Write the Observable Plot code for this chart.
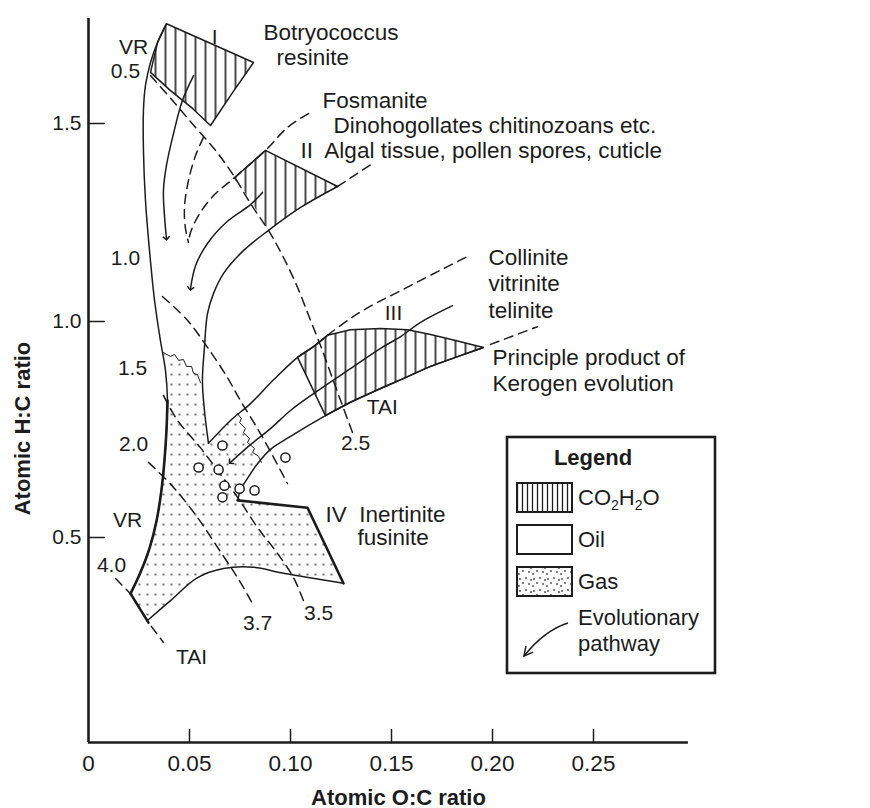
<!DOCTYPE html>
<html>
<head>
<meta charset="utf-8">
<script src="https://cdn.jsdelivr.net/npm/d3@7"></script>
<script src="https://cdn.jsdelivr.net/npm/@observablehq/plot@0.6"></script>
<style>
  body { margin: 0; background: #fff; }
  #chart { position: relative; width: 870px; height: 808px; }
</style>
</head>
<body>
<div id="chart"></div>
<script>
const FONT = "'Liberation Sans', Arial, Helvetica, sans-serif";
const INK = "#1c1c1c";

// ---- axes ----
const xTicks = [0, 0.05, 0.10, 0.15, 0.20, 0.25];
const yTicks = [0.5, 1.0, 1.5];
const xMax = 0.297, yMin = 0.0255, yMax = 1.765;

// ---- solid boundary curves (O:C, H:C) ----
const leftEnvelope = [[0.0386,1.752],[0.0342,1.705],[0.0307,1.654],[0.0282,1.596],[0.0272,1.533],[0.0272,1.432],[0.0282,1.306],[0.0302,1.179],[0.0327,1.053],[0.0356,0.956],[0.0381,0.887],[0.0391,0.817],[0.0386,0.748],[0.0376,0.678],[0.0361,0.609],[0.0337,0.539],[0.0302,0.475],[0.0257,0.419],[0.0208,0.370]];
const typeIHatch = [[0.0386,1.752],[0.0817,1.654],[0.0713,1.578],[0.0604,1.495],[0.0515,1.538],[0.0406,1.583],[0.0307,1.629],[0.0342,1.705]];
const typeIArrow = [[0.0520,1.621],[0.0465,1.558],[0.0421,1.475],[0.0386,1.394],[0.0371,1.331],[0.0376,1.268],[0.0386,1.210]];
const typeIDashed = [[0.0569,1.465],[0.0530,1.419],[0.0495,1.356],[0.0475,1.288],[0.0480,1.235],[0.0495,1.200]];
const typeIIDashedUpper = [[0.1089,1.525],[0.0985,1.490],[0.0876,1.432],[0.0718,1.361],[0.0619,1.318],[0.0545,1.268],[0.0505,1.225],[0.0495,1.200]];
const typeIIHatch = [[0.0876,1.432],[0.1233,1.341],[0.1050,1.288],[0.0891,1.230],[0.0842,1.273],[0.0792,1.313],[0.0752,1.341],[0.0718,1.361]];
const typeIIHatchTop = [[0.0718,1.361],[0.0876,1.432],[0.1233,1.341]];
const typeIIDashedLower = [[0.1233,1.341],[0.1406,1.399]];
const typeIILower = [[0.1233,1.341],[0.1050,1.288],[0.0891,1.230],[0.0767,1.179],[0.0668,1.121],[0.0619,1.071],[0.0589,1.020],[0.0574,0.940],[0.0564,0.863],[0.0574,0.794],[0.0594,0.718]];
const typeIIArrow = [[0.0861,1.326],[0.0802,1.295],[0.0688,1.253],[0.0589,1.197],[0.0530,1.141],[0.0505,1.083]];
const typeIIIUpper = [[0.0594,0.718],[0.0703,0.771],[0.0802,0.810],[0.0916,0.865],[0.1035,0.917],[0.1114,0.942],[0.1183,0.968]];
const typeIIIDashedUpper = [[0.1183,0.968],[0.1297,1.008],[0.1411,1.043],[0.1520,1.071],[0.1644,1.104],[0.1767,1.136],[0.1876,1.164]];
const typeIIIHatch = [[0.1035,0.917],[0.1114,0.942],[0.1183,0.968],[0.1297,0.981],[0.1446,0.984],[0.1579,0.981],[0.1693,0.970],[0.1817,0.956],[0.1955,0.940],[0.1817,0.917],[0.1693,0.896],[0.1569,0.870],[0.1446,0.845],[0.1297,0.813],[0.1173,0.782]];
const typeIIILower = [[0.1955,0.940],[0.1817,0.917],[0.1693,0.896],[0.1569,0.870],[0.1446,0.845],[0.1297,0.813],[0.1173,0.782],[0.1000,0.734],[0.0901,0.704],[0.0837,0.671],[0.0787,0.637],[0.0752,0.609],[0.0738,0.586]];
const typeIIIArrow = [[0.1802,1.040],[0.1644,0.998],[0.1545,0.965],[0.1446,0.938],[0.1297,0.891],[0.1114,0.833],[0.1000,0.794],[0.0901,0.752],[0.0802,0.715],[0.0703,0.674]];
const principleDashed = [[0.1990,0.947],[0.2223,0.988]];
const typeIVEdge = [[0.0738,0.586],[0.1084,0.569],[0.1262,0.394]];
const gasBottom = [[0.1262,0.394],[0.0965,0.417],[0.0817,0.431],[0.0668,0.428],[0.0540,0.407],[0.0406,0.354],[0.0292,0.308]];
const oilGasWavy1 = [[0.0371,0.928],[0.0406,0.919],[0.0426,0.924],[0.0446,0.910],[0.0470,0.912],[0.0485,0.896],[0.0510,0.896],[0.0520,0.880],[0.0540,0.877],[0.0554,0.859]];
const oilGasWavy2 = [[0.0738,0.787],[0.0757,0.775],[0.0748,0.766],[0.0777,0.752],[0.0767,0.743],[0.0797,0.729],[0.0787,0.720],[0.0822,0.706],[0.0812,0.697],[0.0842,0.688],[0.0856,0.674]];
const gasZone = [[0.0208,0.370],[0.0257,0.419],[0.0302,0.475],[0.0337,0.539],[0.0361,0.609],[0.0376,0.678],[0.0386,0.748],[0.0391,0.817],[0.0381,0.887],[0.0371,0.928],[0.0406,0.919],[0.0426,0.924],[0.0446,0.910],[0.0470,0.912],[0.0485,0.896],[0.0510,0.896],[0.0520,0.880],[0.0540,0.877],[0.0554,0.859],[0.0574,0.794],[0.0594,0.718],[0.0703,0.771],[0.0738,0.787],[0.0757,0.775],[0.0748,0.766],[0.0777,0.752],[0.0767,0.743],[0.0797,0.729],[0.0787,0.720],[0.0822,0.706],[0.0812,0.697],[0.0842,0.688],[0.0856,0.674],[0.0837,0.671],[0.0787,0.637],[0.0752,0.609],[0.0738,0.586],[0.1084,0.569],[0.1262,0.394],[0.0965,0.417],[0.0817,0.431],[0.0668,0.428],[0.0540,0.407],[0.0406,0.354],[0.0292,0.308]];

// ---- maturity isolines (dashed): VR at top end, TAI at bottom end ----
const vr05 = [[0.0307,1.621],[0.0416,1.558],[0.0530,1.490],[0.0629,1.432],[0.0718,1.369],[0.0802,1.298],[0.0891,1.230],[0.0960,1.167],[0.1035,1.086],[0.1099,1.003],[0.1158,0.933],[0.1208,0.868],[0.1257,0.806],[0.1307,0.743]];
const vr10 = [[0.0366,1.063],[0.0490,1.003],[0.0589,0.940],[0.0688,0.870],[0.0752,0.817],[0.0837,0.752],[0.0911,0.690],[0.0985,0.625]];
const vr15 = [[0.0371,0.829],[0.0441,0.771],[0.0554,0.708],[0.0639,0.655],[0.0738,0.593],[0.0837,0.523],[0.0936,0.463],[0.1015,0.407],[0.1064,0.354]];
const vr20 = [[0.0297,0.674],[0.0421,0.616],[0.0540,0.546],[0.0639,0.477],[0.0738,0.407],[0.0817,0.343]];
const vr40 = [[0.0134,0.405],[0.0208,0.370],[0.0297,0.303],[0.0371,0.257]];

// ---- coal samples ----
const coalSamples = [[0.0663,0.713],[0.0545,0.662],[0.0644,0.657],[0.0673,0.620],[0.0748,0.613],[0.0822,0.609],[0.0663,0.593],[0.0975,0.685]];

// ---- labels ----
const isoLabels = [["VR",0.0223,1.692],["0.5",0.0183,1.631],["I",0.0624,1.717],["1.0",0.0183,1.159],["III",0.1510,1.020],["1.5",0.0218,0.891],["TAI",0.1455,0.801],["2.5",0.1322,0.718],["2.0",0.0223,0.715],["VR",0.0193,0.539],["4.0",0.0114,0.435],["3.5",0.1139,0.324],["3.7",0.0837,0.301],["TAI",0.0510,0.222]];
const sourceLabels = [["Botryococcus",0.0866,1.730],["resinite",0.0931,1.667],["Fosmanite",0.1158,1.558],["Dinohogollates chitinozoans etc.",0.1213,1.495],["II\u00a0 Algal tissue, pollen spores, cuticle",0.1050,1.432],["Collinite",0.1980,1.162],["vitrinite",0.1980,1.096],["telinite",0.1980,1.028],["Principle product of",0.2000,0.917],["Kerogen evolution",0.2000,0.856],["IV\u00a0 Inertinite",0.1173,0.553],["fusinite",0.1332,0.500]];
const legendItems = ["Oil", "Gas"];

const solid = {stroke: INK, strokeWidth: 1.5, curve: "catmull-rom"};
const dashed = {stroke: INK, strokeWidth: 1.5, strokeDasharray: "9,6", curve: "catmull-rom"};

const chart = Plot.plot({
  width: 870, height: 808,
  marginTop: 18, marginBottom: 66, marginLeft: 88, marginRight: 176,
  style: {fontFamily: FONT, fontSize: "21px", color: INK, background: "white", overflow: "visible"},
  x: {type: "linear", domain: [0, 0.3]},
  y: {type: "linear", domain: [0.5, 1.0, 1.5], range: [537, 321, 123]},
  marks: [
    Plot.line(gasZone, {curve: "linear-closed", fill: "url(#gasDots)", stroke: "none"}),
    Plot.line(typeIHatch, {curve: "linear-closed", fill: "url(#hatch)", stroke: INK, strokeWidth: 1.5}),
    Plot.line(typeIIHatch, {curve: "linear-closed", fill: "url(#hatch)", stroke: "none"}),
    Plot.line(typeIIIHatch, {curve: "linear-closed", fill: "url(#hatch)", stroke: INK, strokeWidth: 1.5}),
    Plot.line(typeIIHatchTop, {stroke: INK, strokeWidth: 1.5}),

    Plot.line(vr05, dashed),
    Plot.line(vr10, dashed),
    Plot.line(vr15, dashed),
    Plot.line(vr20, dashed),
    Plot.line(vr40, {...dashed, curve: "linear"}),
    Plot.line(vr40.slice(1, 3), {stroke: INK, strokeWidth: 2.6}),
    Plot.line(typeIDashed, dashed),
    Plot.line(typeIIDashedUpper, dashed),
    Plot.line(typeIIDashedLower, dashed),
    Plot.line(typeIIIDashedUpper, dashed),
    Plot.line(principleDashed, dashed),

    Plot.line(leftEnvelope, solid),
    Plot.line(leftEnvelope.slice(11), {...solid, strokeWidth: 2.6}),
    Plot.line(typeIILower, solid),
    Plot.line(typeIIIUpper, solid),
    Plot.line(typeIIILower, solid),
    Plot.line(typeIVEdge, {stroke: INK, strokeWidth: 2.6}),
    Plot.line(gasBottom, solid),
    Plot.line(oilGasWavy1, {stroke: INK, strokeWidth: 1}),
    Plot.line(oilGasWavy2, {stroke: INK, strokeWidth: 1}),

    Plot.line(typeIArrow, {...solid, markerEnd: "arrow"}),
    Plot.line(typeIIArrow, {...solid, markerEnd: "arrow"}),
    Plot.line(typeIIIArrow, {...solid, markerEnd: "arrow"}),

    Plot.dot(coalSamples, {r: 4.6, stroke: INK, strokeWidth: 1.5, fill: "white"}),

    Plot.text(isoLabels, {x: d => d[1], y: d => d[2], text: d => d[0], fontSize: 21, fill: INK, textAnchor: "middle"}),
    Plot.text(sourceLabels, {x: d => d[1], y: d => d[2], text: d => d[0], fontSize: 22.5, fill: INK, textAnchor: "start"}),

    // axes
    Plot.ruleX([0], {y1: yMin, y2: yMax, stroke: INK, strokeWidth: 2.6}),
    Plot.ruleY([yMin], {x1: 0, x2: xMax, stroke: INK, strokeWidth: 2.6}),
    Plot.ruleY(yTicks, {x1: 0, x2: 0.0084, stroke: INK, strokeWidth: 1.5}),
    Plot.ruleX(xTicks.filter(d => d > 0), {y1: yMin, y2: 0.0556, stroke: INK, strokeWidth: 1.5}),
    Plot.axisY({ticks: yTicks, tickSize: 0, tickPadding: 7, tickFormat: d => d.toFixed(1), fontSize: 21, label: null}),
    Plot.axisX({ticks: xTicks, tickSize: 0, tickPadding: 13, tickFormat: d => d === 0 ? "0" : d.toFixed(2), fontSize: 22.5, label: null}),
    Plot.text(["Atomic O:C ratio"], {frameAnchor: "bottom", dx: 7, dy: 55, lineAnchor: "middle", textAnchor: "middle", fontWeight: "bold", fontSize: 22, fill: INK}),
    Plot.text(["Atomic H:C ratio"], {frameAnchor: "left", rotate: -90, dx: -66, dy: 48, lineAnchor: "middle", textAnchor: "middle", fontWeight: "bold", fontSize: 22, fill: INK})
  ]
});

document.getElementById("chart").appendChild(chart);

// ---- patterns ----
const svg = d3.select(chart);
const defs = svg.insert("defs", ":first-child");
defs.append("pattern").attr("id", "hatch").attr("patternUnits", "userSpaceOnUse").attr("width", 10).attr("height", 10)
  .append("path").attr("d", "M5,0V10").attr("stroke", INK).attr("stroke-width", 1.6);
defs.append("pattern").attr("id", "hatchSmall").attr("patternUnits", "userSpaceOnUse").attr("width", 5).attr("height", 10)
  .append("path").attr("d", "M2.5,0V10").attr("stroke", INK).attr("stroke-width", 1.3);
const gp = defs.append("pattern").attr("id", "gasDots").attr("patternUnits", "userSpaceOnUse").attr("width", 16).attr("height", 10);
gp.append("circle").attr("cx", 3).attr("cy", 4).attr("r", 1.1).attr("fill", "#555");
gp.append("circle").attr("cx", 11).attr("cy", 4).attr("r", 1.1).attr("fill", "#555");
const lp = defs.append("pattern").attr("id", "gasSpeckle").attr("patternUnits", "userSpaceOnUse").attr("width", 14).attr("height", 12);
[[2,3],[8,2],[5,7],[11,8],[13,4],[1,10]].forEach(([cx, cy]) => lp.append("circle").attr("cx", cx).attr("cy", cy).attr("r", 0.9).attr("fill", "#444"));

// ---- legend box ----
const lg = svg.append("g").attr("font-family", FONT).attr("font-size", 22).attr("fill", INK).attr("text-anchor", "start");
lg.append("rect").attr("x", 507).attr("y", 437).attr("width", 208).attr("height", 236)
  .attr("fill", "white").attr("stroke", INK).attr("stroke-width", 2.6);
lg.append("text").attr("x", 593).attr("y", 457).attr("dy", "0.35em").attr("text-anchor", "middle")
  .attr("font-weight", "bold").attr("font-size", 22).text("Legend");
const swatchFill = ["url(#hatchSmall)", "white", "url(#gasSpeckle)"];
const swatchY = [483, 525, 567];
swatchY.forEach((y, i) => {
  lg.append("rect").attr("x", 517).attr("y", y).attr("width", 55).attr("height", 29)
    .attr("fill", swatchFill[i]).attr("stroke", INK).attr("stroke-width", 2);
});
const co = lg.append("text").attr("x", 578).attr("y", 497).attr("dy", "0.35em");
co.append("tspan").text("CO");
co.append("tspan").attr("font-size", 14).attr("dy", 5).text("2");
co.append("tspan").attr("dy", -5).text("H");
co.append("tspan").attr("font-size", 14).attr("dy", 5).text("2");
co.append("tspan").attr("dy", -5).text("O");
legendItems.forEach((t, i) => {
  lg.append("text").attr("x", 578).attr("y", swatchY[i + 1] + 14).attr("dy", "0.35em").text(t);
});
lg.append("text").attr("x", 578).attr("y", 617).attr("dy", "0.35em").text("Evolutionary");
lg.append("text").attr("x", 578).attr("y", 643).attr("dy", "0.35em").text("pathway");
lg.append("path").attr("d", "M568,623Q545,630 524,656").attr("fill", "none").attr("stroke", INK).attr("stroke-width", 1.5);
lg.append("path").attr("d", "M533.2,652.1L524,656L525.9,646.2").attr("fill", "none").attr("stroke", INK).attr("stroke-width", 1.5);
</script>
</body>
</html>
